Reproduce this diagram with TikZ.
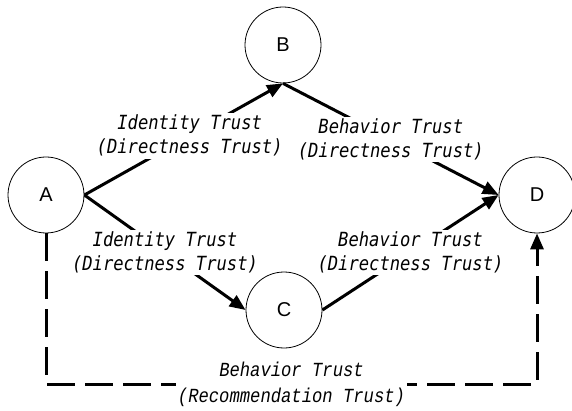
\documentclass[tikz,border=0pt]{standalone}
\usepackage{fontspec}
\setmainfont{Liberation Sans}
\newfontfamily\directfont{DejaVu Sans Mono}[FakeStretch=0.88]
\newfontfamily\recofont{Liberation Mono}[FakeStretch=0.86]
\usetikzlibrary{arrows.meta}
\begin{document}
\begin{tikzpicture}
[x=1pt,y=-1pt,
 peer/.style={draw,circle,line width=0.8pt,minimum size=76pt,inner sep=0pt,
   font=\fontsize{20}{20}\selectfont},
 trustline/.style={line width=3pt,-{Triangle[length=16pt,width=13pt]}},
 directlabel/.style={fill=white,align=center,inner sep=2pt,
   font=\directfont\itshape\fontsize{19.5}{24}\selectfont},
 recolabel/.style={fill=white,align=center,inner sep=2pt,
   font=\recofont\itshape\fontsize{20}{26}\selectfont}]
\useasboundingbox (0,0) rectangle (572,411);
%% the four peers
\node[peer] (A) at (46,195) {A};
\node[peer] (B) at (283,45) {B};
\node[peer] (C) at (284,310) {C};
\node[peer] (D) at (537,195) {D};
\coordinate (low) at (0,384);
%% direct trust
\draw[trustline] (A.east) -- node[directlabel,pos=0.53] {Identity Trust\\(Directness Trust)} (B.south);
\draw[trustline] (B.south) -- node[directlabel] {Behavior Trust\\(Directness Trust)} (D.west);
\draw[trustline] (A.east) -- node[directlabel] {Identity Trust\\(Directness Trust)} (C.west);
\draw[trustline] (C.east) -- node[directlabel] {Behavior Trust\\(Directness Trust)} (D.west);
%% recommended trust
\draw[trustline,dash pattern=on 28pt off 10pt] (A.south) -- (A.south |- low) --
  node[recolabel] {Behavior Trust\\(Recommendation Trust)} (D.south |- low) -- (D.south);
\end{tikzpicture}
\end{document}
